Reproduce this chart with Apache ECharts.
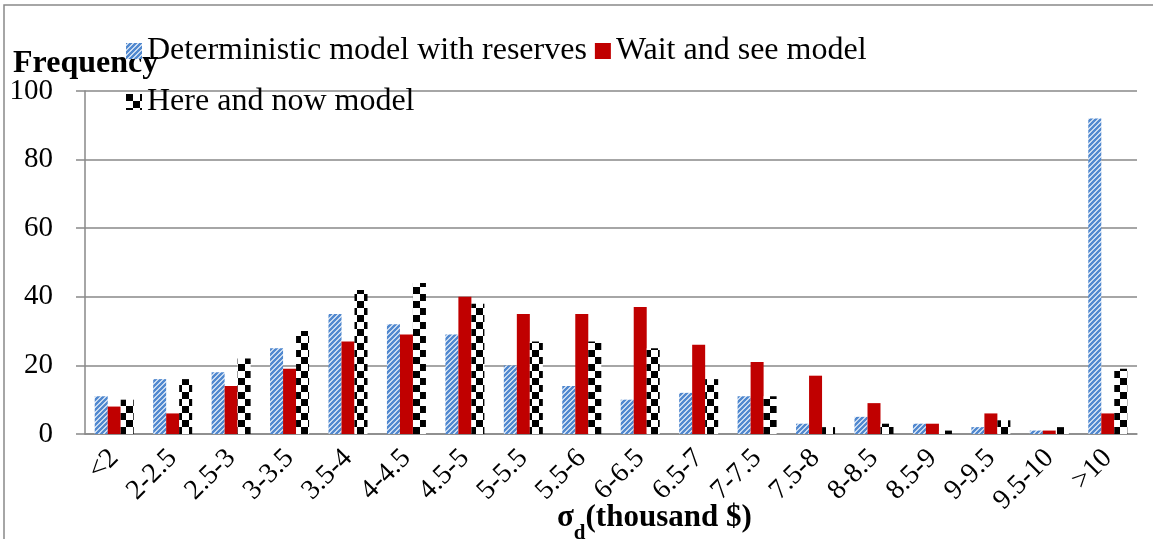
<!DOCTYPE html>
<html>
<head>
<meta charset="utf-8">
<script src="https://cdn.jsdelivr.net/npm/echarts@6/dist/echarts.min.js"></script>
<style>
  html, body { margin: 0; padding: 0; background: #fff; }
  #chart { width: 1153px; height: 539px; }
</style>
</head>
<body>
<div id="chart"></div>
<script>
// categories (x axis bins of sigma_d, thousand $)
const categories = ['<2', '2-2.5', '2.5-3', '3-3.5', '3.5-4', '4-4.5', '4.5-5', '5-5.5', '5.5-6',
  '6-6.5', '6.5-7', '7-7.5', '7.5-8', '8-8.5', '8.5-9', '9-9.5', '9.5-10', '>10'];

// frequencies
const deterministic = [11, 16, 18, 25, 35, 32, 29, 20, 14, 10, 12, 11, 3, 5, 3, 2, 1, 92];
const waitAndSee = [8, 6, 14, 19, 27, 29, 40, 35, 35, 37, 26, 21, 17, 9, 3, 6, 1, 6];
const hereAndNow = [10, 16, 22, 30, 42, 44, 38, 27, 27, 25, 16, 11, 2, 3, 1, 4, 2, 19];

const yTicks = [0, 20, 40, 60, 80, 100];

const FONT = '"Liberation Serif", "Times New Roman", serif';
const GRID_COLOR = '#898989';

// blue diagonal hatch
function stripePattern() {
  const s = 5;
  const c = document.createElement('canvas');
  c.width = s; c.height = s;
  const ctx = c.getContext('2d');
  ctx.fillStyle = '#fff';
  ctx.fillRect(0, 0, s, s);
  ctx.strokeStyle = '#5088cf';
  ctx.lineWidth = 2.6;
  ctx.beginPath();
  ctx.moveTo(-1, s + 1); ctx.lineTo(s + 1, -1);
  ctx.moveTo(-1, 1); ctx.lineTo(1, -1);
  ctx.moveTo(s - 1, s + 1); ctx.lineTo(s + 1, s - 1);
  ctx.stroke();
  return c;
}

// black & white checker
function checkerPattern() {
  const q = 7;
  const c = document.createElement('canvas');
  c.width = q * 2; c.height = q * 2;
  const ctx = c.getContext('2d');
  ctx.fillStyle = '#fff';
  ctx.fillRect(0, 0, q * 2, q * 2);
  ctx.fillStyle = '#000';
  ctx.fillRect(0, 0, q, q);
  ctx.fillRect(q, q, q, q);
  return c;
}

const chart = echarts.init(document.getElementById('chart'));

const barBase = {
  type: 'bar',
  barWidth: 13,
  barGap: '0%',
  animation: false
};

const legendText = { fontFamily: FONT, fontSize: 32, color: '#000' };

const option = {
  backgroundColor: '#fff',
  grid: { left: 85, right: 16, top: 91, bottom: 105 },
  legend: [
    {
      data: ['Deterministic model with reserves', 'Wait and see model'],
      left: 121, top: 30,
      icon: 'rect',
      itemWidth: 16, itemHeight: 16, itemGap: 8,
      textStyle: legendText
    },
    {
      data: ['Here and now model'],
      left: 121, top: 81,
      icon: 'rect',
      itemWidth: 16, itemHeight: 16,
      textStyle: legendText
    }
  ],
  xAxis: {
    type: 'category',
    data: categories,
    axisLine: { lineStyle: { color: GRID_COLOR, width: 1.5 } },
    axisTick: { length: 8, lineStyle: { color: GRID_COLOR, width: 1.5 } },
    axisLabel: {
      interval: 0,
      rotate: 45,
      margin: 20,
      fontFamily: FONT,
      fontSize: 28,
      color: '#000'
    }
  },
  yAxis: {
    type: 'value',
    min: yTicks[0],
    max: yTicks[yTicks.length - 1],
    interval: yTicks[1] - yTicks[0],
    axisLine: { show: true, lineStyle: { color: GRID_COLOR, width: 1.5 } },
    axisTick: { show: true, length: 9, lineStyle: { color: GRID_COLOR, width: 1.5 } },
    axisLabel: { margin: 32, fontFamily: FONT, fontSize: 29, color: '#000' },
    splitLine: { lineStyle: { color: GRID_COLOR, width: 1.5 } }
  },
  series: [
    Object.assign({}, barBase, {
      name: 'Deterministic model with reserves',
      data: deterministic,
      itemStyle: { color: { image: stripePattern(), repeat: 'repeat' } }
    }),
    Object.assign({}, barBase, {
      name: 'Wait and see model',
      data: waitAndSee,
      itemStyle: { color: '#c00000' }
    }),
    Object.assign({}, barBase, {
      name: 'Here and now model',
      data: hereAndNow,
      itemStyle: { color: { image: checkerPattern(), repeat: 'repeat' } }
    })
  ],
  graphic: [
    {
      type: 'rect',
      shape: { x: 4, y: 5, width: 1200, height: 600 },
      style: { fill: 'none', stroke: GRID_COLOR, lineWidth: 1.5 },
      silent: true
    },
    {
      type: 'text',
      left: 13, top: 48,
      style: { text: 'Frequency', fontFamily: FONT, fontSize: 32, fontWeight: 'bold', fill: '#000' }
    },
    {
      type: 'text',
      left: 557, top: 502,
      style: {
        text: '{s|σ}{d|d}{s|(thousand $)}',
        fill: '#000',
        rich: {
          s: { fontFamily: FONT, fontSize: 31, fontWeight: 'bold', lineHeight: 34, verticalAlign: 'bottom' },
          d: { fontFamily: FONT, fontSize: 21, fontWeight: 'bold', lineHeight: 34, verticalAlign: 'bottom', padding: [0, 0, -11, 0] }
        }
      }
    }
  ]
};

chart.setOption(option);
</script>
</body>
</html>
